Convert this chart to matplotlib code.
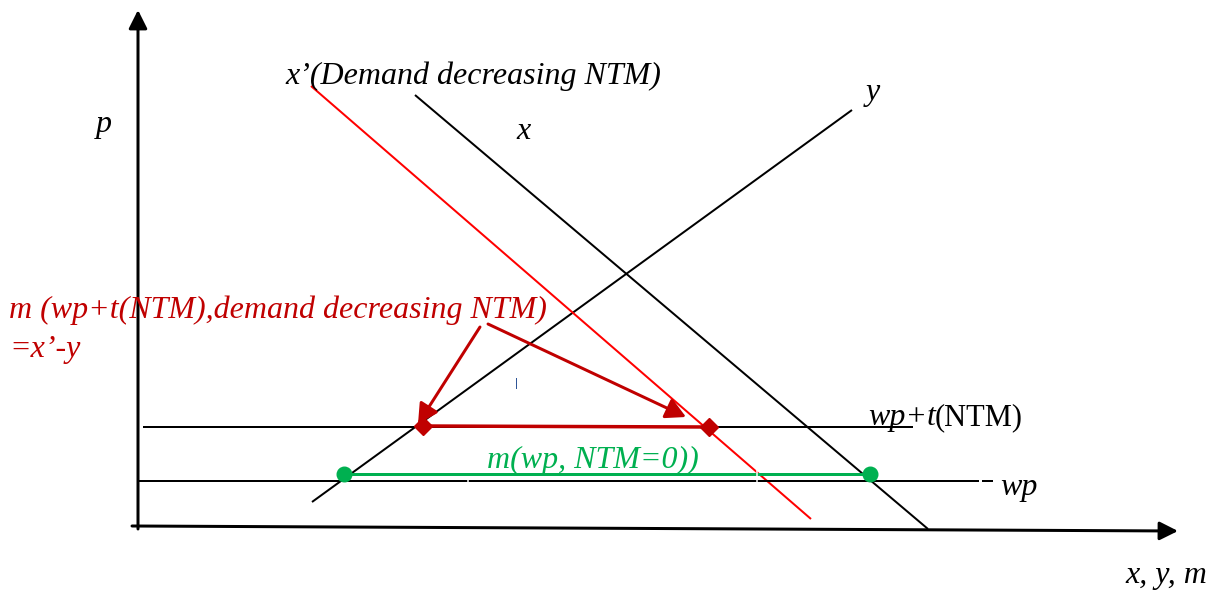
import matplotlib
matplotlib.use("Agg")
import matplotlib.pyplot as plt

# ---- diagram geometry (pixel space of the original picture) ----
W, H = 1219, 594

y_axis_x = [138, 138]
y_axis_y = [529, 10]
x_axis_x = [132, 1178]
x_axis_y = [526, 531]

supply_x = [312, 852]          # y (supply) line
supply_y = [502, 110]
demand_x = [415, 928]          # x (demand) line
demand_y = [95, 529]
demand2_x = [311, 811]         # x' (demand decreasing NTM)
demand2_y = [86, 519]

wpt_x = [143, 913]             # wp + t(NTM)
wpt_y = [427, 427]
wp_x = [137, 979]              # wp
wp_y = [481, 481]
wp_tail_x = [982, 993]
wp_tail_y = [481, 481]

m0_x = [344, 870]              # m(wp, NTM=0)
m0_y = [474, 474]
m1_x = [423, 709]              # m(wp+t, demand decreasing NTM)
m1_y = [426, 427]

arrow_starts = [(480, 327), (488, 324)]
arrow_ends = [(418, 424), (686, 417)]

gap_x = [468, 757]
gap_y0 = [478, 470]
gap_y1 = [485, 485]

tick_x = [516, 516]
tick_y = [378, 388]

labels = [
    # text, x, y(baseline), color
    ("p", 96, 132, "black"),
    ("x\u2019(Demand decreasing NTM)", 285, 84, "black"),
    ("x", 516, 139, "black"),
    ("y", 866, 100, "black"),
    ("m (wp+t(NTM),demand decreasing NTM)", 9, 318, "#C00000"),
    ("=x\u2019-y", 9, 357, "#C00000"),
    ("m(wp, NTM=0))", 487, 468, "#00B050"),
    ("wp", 1000, 495, "black"),
    ("x, y, m", 1125, 583, "black"),
]

RED = "#C00000"
GREEN = "#00B050"
PX = 0.72  # points per pixel at 100 dpi

fig = plt.figure(figsize=(W / 100, H / 100), dpi=100)
ax = fig.add_axes([0, 0, 1, 1])
ax.set_xlim(0, W)
ax.set_ylim(H, 0)
ax.axis("off")

# axes with arrow heads
ax.annotate("", xy=(y_axis_x[1], y_axis_y[1]), xytext=(y_axis_x[0], y_axis_y[0]),
            arrowprops=dict(arrowstyle="-|>,head_length=0.8,head_width=0.4",
                            mutation_scale=14, lw=3 * PX, color="black",
                            shrinkA=0, shrinkB=0))
ax.annotate("", xy=(x_axis_x[1], x_axis_y[1]), xytext=(x_axis_x[0], x_axis_y[0]),
            arrowprops=dict(arrowstyle="-|>,head_length=0.8,head_width=0.4",
                            mutation_scale=14, lw=3 * PX, color="black",
                            shrinkA=0, shrinkB=0))

ax.plot(supply_x, supply_y, color="black", lw=2 * PX, solid_capstyle="butt")
ax.plot(demand_x, demand_y, color="black", lw=2 * PX, solid_capstyle="butt")
ax.plot(demand2_x, demand2_y, color="#FF0000", lw=2 * PX, solid_capstyle="butt")
ax.plot(wpt_x, wpt_y, color="black", lw=2 * PX, solid_capstyle="butt")
ax.plot(wp_x, wp_y, color="black", lw=2 * PX, solid_capstyle="butt")
ax.plot(wp_tail_x, wp_tail_y, color="black", lw=2 * PX, solid_capstyle="butt")

ax.plot(m0_x, m0_y, color=GREEN, lw=3 * PX, solid_capstyle="butt", zorder=3)
ax.plot(m0_x, m0_y, ls="none", marker="o", ms=10.5, color=GREEN, zorder=4)

for gx, g0, g1 in zip(gap_x, gap_y0, gap_y1):
    ax.plot([gx, gx], [g0, g1], color="white", lw=1.5 * PX, zorder=5)

ax.plot(m1_x, m1_y, color=RED, lw=3.5 * PX, solid_capstyle="butt", zorder=3)
ax.plot(m1_x, m1_y, ls="none", marker="D", ms=9, color=RED, zorder=4)

for (sx, sy), (ex, ey) in zip(arrow_starts, arrow_ends):
    ax.annotate("", xy=(ex, ey), xytext=(sx, sy),
                arrowprops=dict(arrowstyle="-|>,head_length=0.75,head_width=0.4",
                                mutation_scale=16, lw=3 * PX, color=RED,
                                shrinkA=0, shrinkB=0), zorder=4)

ax.plot(tick_x, tick_y, color="#2F5597", lw=1 * PX)

FS = 23
for txt, tx, ty, col in labels:
    ax.text(tx, ty, txt, color=col, fontsize=FS, family="Liberation Serif",
            style="italic", ha="left", va="baseline")

t1 = ax.text(868, 425, "wp+t", color="black", fontsize=FS, family="Liberation Serif",
             style="italic", ha="left", va="baseline")
fig.canvas.draw()
bb = t1.get_window_extent()
x_end = ax.transData.inverted().transform((bb.x1, bb.y0))[0]
ax.text(x_end - 1, 425, "(NTM)", color="black", fontsize=22, family="Liberation Serif",
        ha="left", va="baseline")

fig.savefig("out.png", dpi=100)
